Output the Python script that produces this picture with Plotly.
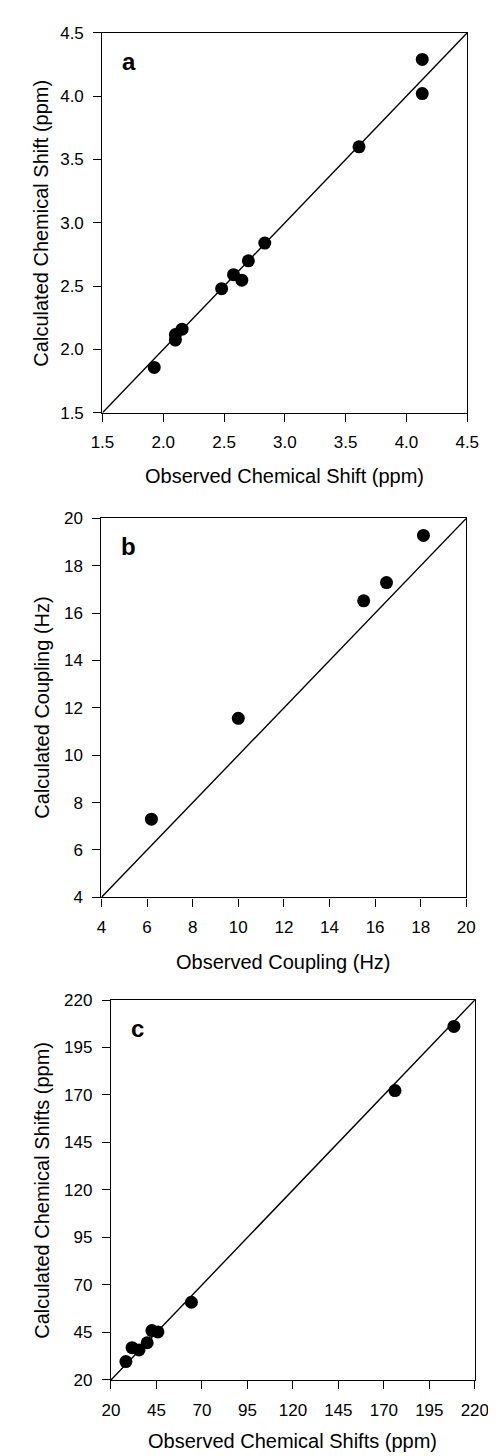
import plotly.graph_objects as go

W, H = 496, 1456

# ---- data ----
a_observed = [4.13, 4.13, 3.61, 2.835, 2.70, 2.578, 2.646, 2.48, 2.155, 2.10, 2.10, 1.926]
a_calculated = [4.29, 4.02, 3.60, 2.84, 2.70, 2.59, 2.547, 2.48, 2.16, 2.118, 2.074, 1.858]
a_ticks = [1.5, 2.0, 2.5, 3.0, 3.5, 4.0, 4.5]

b_observed = [18.12, 16.5, 15.5, 10.0, 6.19]
b_calculated = [19.28, 17.29, 16.52, 11.56, 7.30]
b_ticks = [4, 6, 8, 10, 12, 14, 16, 18, 20]

c_observed = [208.5, 176.1, 64.2, 45.8, 42.5, 39.9, 35.4, 31.6, 28.2]
c_calculated = [206.1, 172.3, 60.9, 45.3, 46.0, 39.6, 35.8, 37.0, 29.7]
c_ticks = [20, 45, 70, 95, 120, 145, 170, 195, 220]

panels = [
    dict(obs=a_observed, calc=a_calculated, ticks=a_ticks, fmt=".1f", letter="a",
         xtitle="Observed Chemical Shift (ppm)", ytitle="Calculated Chemical Shift (ppm)",
         px=(87, 472), py=(16, 401), xt_y=465, yt_x=22),
    dict(obs=b_observed, calc=b_calculated, ticks=b_ticks, fmt="d", letter="b",
         xtitle="Observed Coupling (Hz)", ytitle="Calculated Coupling (Hz)",
         px=(86, 471), py=(508, 892), xt_y=957, yt_x=23),
    dict(obs=c_observed, calc=c_calculated, ticks=c_ticks, fmt="d", letter="c",
         xtitle="Observed Chemical Shifts (ppm)", ytitle="Calculated Chemical Shifts (ppm)",
         px=(96, 480), py=(996, 1381), xt_y=1443, yt_x=23),
]

FONT = "Arial, 'Liberation Sans', sans-serif"

fig = go.Figure()
annotations = []
layout = {}

for i, p in enumerate(panels, start=1):
    sx = "" if i == 1 else str(i)
    xa, ya = "x" + sx, "y" + sx
    lo, hi = p["ticks"][0], p["ticks"][-1]
    # identity line
    fig.add_trace(go.Scatter(x=[lo, hi], y=[lo, hi], mode="lines",
                             line=dict(color="black", width=1.4),
                             xaxis=xa, yaxis=ya, showlegend=False, hoverinfo="skip"))
    fig.add_trace(go.Scatter(x=p["obs"], y=p["calc"], mode="markers",
                             marker=dict(color="black", size=13, line=dict(width=0)),
                             xaxis=xa, yaxis=ya, showlegend=False))
    dom_x = [p["px"][0] / W, p["px"][1] / W]
    dom_y = [1 - p["py"][1] / H, 1 - p["py"][0] / H]
    common = dict(showline=True, linecolor="black", linewidth=1.4, mirror=True,
                  ticks="outside", ticklen=8, tickwidth=1.2, tickcolor="black",
                  showgrid=False, zeroline=False, tickmode="array",
                  tickvals=p["ticks"], tickformat=p["fmt"],
                  range=[lo, hi],
                  tickfont=dict(family=FONT, size=17, color="black"))
    layout["xaxis" + sx] = dict(common, domain=dom_x, anchor=ya, ticklabelstandoff=6)
    layout["yaxis" + sx] = dict(common, domain=dom_y, anchor=xa, ticklabelstandoff=6)
    cx = (p["px"][0] + p["px"][1]) / 2 / W
    cy = 1 - (p["py"][0] + p["py"][1]) / 2 / H
    annotations.append(dict(text=p["xtitle"], x=cx, y=1 - p["xt_y"] / H, xref="paper", yref="paper",
                            showarrow=False, xanchor="center", yanchor="middle",
                            font=dict(family=FONT, size=20, color="black")))
    annotations.append(dict(text=p["ytitle"], x=p["yt_x"] / W, y=cy, xref="paper", yref="paper",
                            showarrow=False, xanchor="center", yanchor="middle", textangle=-90,
                            font=dict(family=FONT, size=20, color="black")))
    annotations.append(dict(text="<b>" + p["letter"] + "</b>", x=(p["px"][0] + 19) / W,
                            y=1 - (p["py"][0] + 29) / H, xref="paper", yref="paper",
                            showarrow=False, xanchor="left", yanchor="middle",
                            font=dict(family=FONT, size=24, color="black")))

fig.update_layout(width=W, height=H, margin=dict(l=0, r=0, t=0, b=0),
                  paper_bgcolor="white", plot_bgcolor="white",
                  annotations=annotations, showlegend=False, **layout)

fig.write_html("out.html")
